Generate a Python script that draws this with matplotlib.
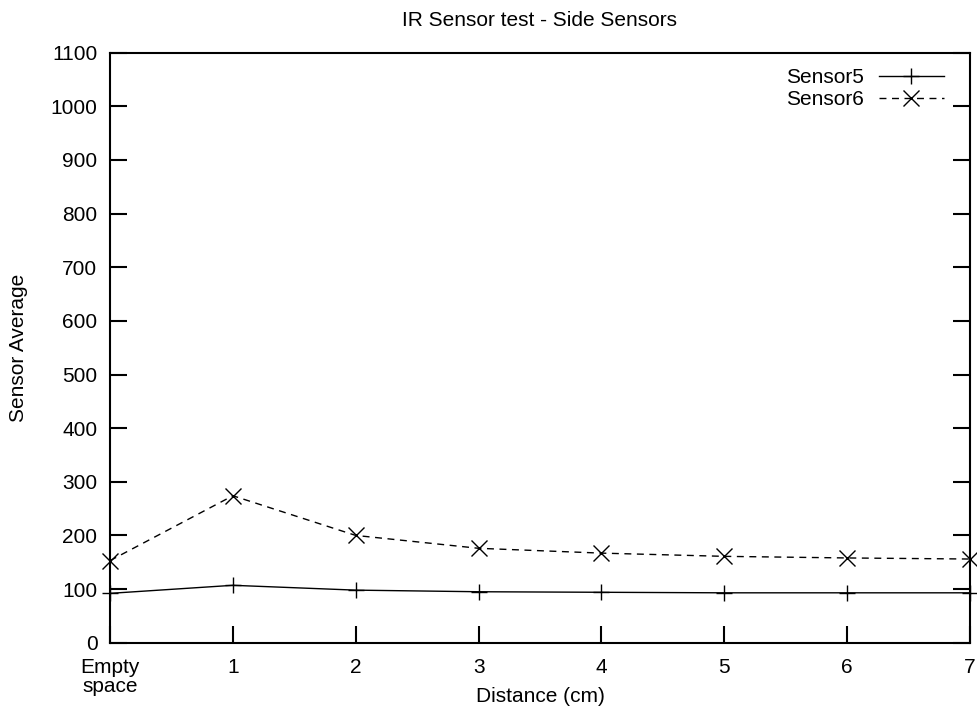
import matplotlib
matplotlib.use("Agg")
import matplotlib.pyplot as plt
from matplotlib.ticker import MultipleLocator

x_pos = [0, 1, 2, 3, 4, 5, 6, 7]
x_labels = ["Empty\nspace", "1", "2", "3", "4", "5", "6", "7"]
sensor5 = [92, 107, 98, 95, 94, 93, 93, 93]
sensor6 = [153, 274, 200, 176, 167, 161, 158, 156]

plt.rcParams['font.family'] = ['Liberation Sans', 'DejaVu Sans']
FS = 15

fig = plt.figure(figsize=(9.78, 7.13), dpi=100)
ax_l, ax_r, ax_t, ax_b = 110, 970, 52.7, 642.7
ax = fig.add_axes([ax_l/978, 1-ax_b/713, (ax_r-ax_l)/978, (ax_b-ax_t)/713])

ax.plot(x_pos, sensor5, color='black', lw=1.0, marker='+', ms=12, mew=1.0,
        label='Sensor5', clip_on=False)
ax.plot(x_pos, sensor6, color='black', lw=1.0, ls=(0, (5, 4)), marker='x', ms=11, mew=1.0,
        label='Sensor6', clip_on=False)

ax.set_xlim(0, 7)
ax.set_ylim(0, 1100)
ax.yaxis.set_major_locator(MultipleLocator(100))
ax.set_xticks(x_pos)
ax.set_xticklabels(x_labels, fontsize=FS, linespacing=1.0)
ax.tick_params(axis='y', labelsize=FS)
ax.tick_params(direction='in', length=12, width=1.5, right=True, top=False)
ax.tick_params(axis='y', pad=9)
ax.tick_params(axis='x', pad=11)
for s in ax.spines.values():
    s.set_linewidth(1.5)

ax.set_title('IR Sensor test - Side Sensors', fontsize=FS, pad=19)
ax.set_xlabel('Distance (cm)', fontsize=FS, va='center')
ax.xaxis.set_label_coords(0.5, (ax_b - 697) / (ax_b - ax_t))
ax.set_ylabel('Sensor Average', fontsize=FS, va='center')
ax.yaxis.set_label_coords((19 - ax_l) / (ax_r - ax_l), 0.5)

fpx = FS * 100 / 72
ax.legend(loc='upper right', frameon=False, markerfirst=False, fontsize=FS,
          handlelength=65 / fpx, handletextpad=15 / fpx, labelspacing=0.15,
          borderaxespad=0,
          bbox_to_anchor=((944 + 0.4 * fpx - ax_l) / (ax_r - ax_l),
                          (ax_b - 60) / (ax_b - ax_t)))

fig.savefig('out.png', dpi=100)
